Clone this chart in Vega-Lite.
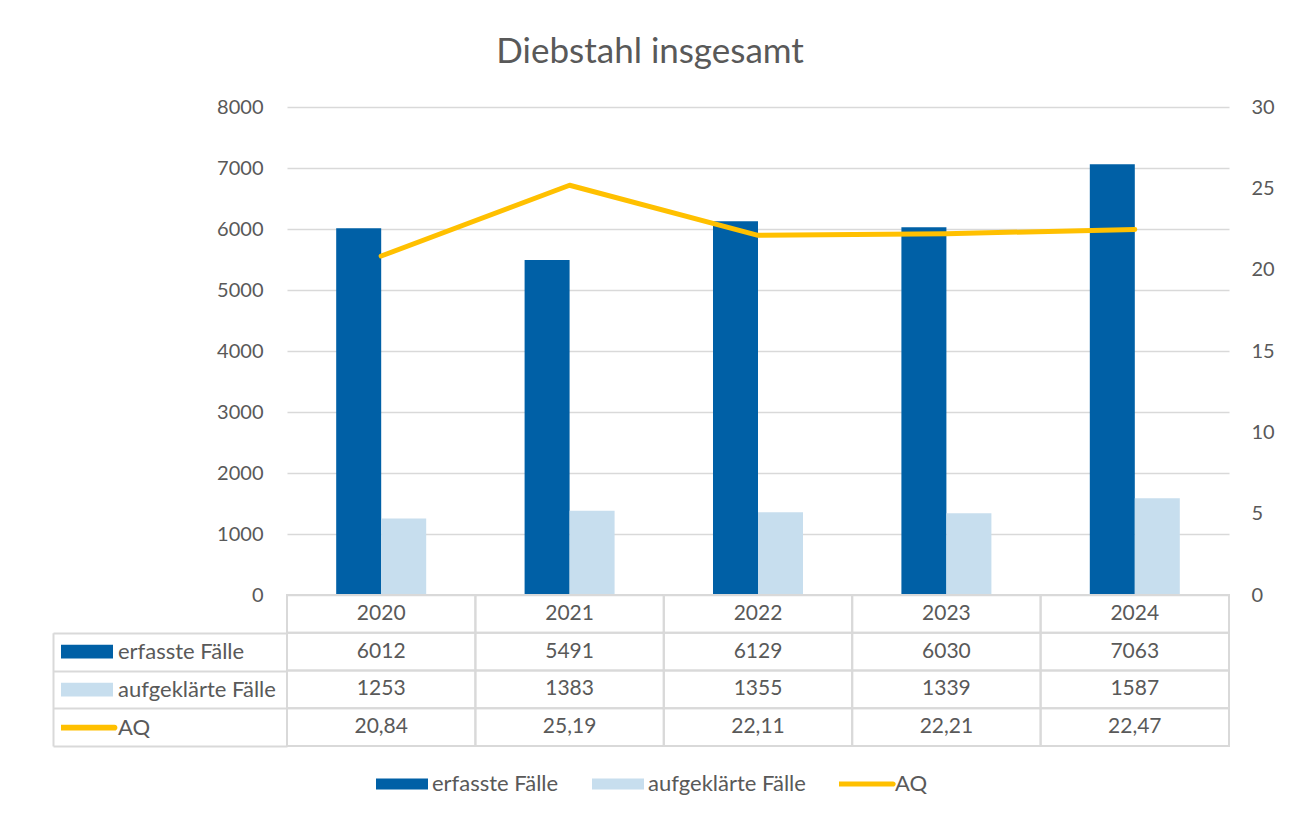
{
  "$schema": "https://vega.github.io/schema/vega-lite/v6.json",
  "padding": {"left": 52, "top": 35, "right": 10, "bottom": 10},
  "title": {"text": "Diebstahl insgesamt", "fontSize": 35, "font": "Lato", "fontWeight": "normal", "color": "#595959", "anchor": "middle", "offset": 27, "dx": -13},
  "datasets": {
    "rows": [
      {"year": "2020", "series": "erfasste Fälle", "value": 6012},
      {"year": "2021", "series": "erfasste Fälle", "value": 5491},
      {"year": "2022", "series": "erfasste Fälle", "value": 6129},
      {"year": "2023", "series": "erfasste Fälle", "value": 6030},
      {"year": "2024", "series": "erfasste Fälle", "value": 7063},
      {"year": "2020", "series": "aufgeklärte Fälle", "value": 1253},
      {"year": "2021", "series": "aufgeklärte Fälle", "value": 1383},
      {"year": "2022", "series": "aufgeklärte Fälle", "value": 1355},
      {"year": "2023", "series": "aufgeklärte Fälle", "value": 1339},
      {"year": "2024", "series": "aufgeklärte Fälle", "value": 1587},
      {"year": "2020", "series": "AQ", "value": 20.84},
      {"year": "2021", "series": "AQ", "value": 25.19},
      {"year": "2022", "series": "AQ", "value": 22.11},
      {"year": "2023", "series": "AQ", "value": 22.21},
      {"year": "2024", "series": "AQ", "value": 22.47}
    ]
  },
  "data": {"name": "rows"},
  "bounds": "flush",
  "spacing": 0,
  "resolve": {
    "scale": {"color": "independent", "shape": "independent"},
    "legend": {"color": "independent", "shape": "independent"}
  },
  "vconcat": [
    {
      "width": 942,
      "height": 488,
      "layer": [
        {
          "transform": [{"filter": "datum.series !== 'AQ'"}],
          "mark": {"type": "bar"},
          "encoding": {
            "x": {"field": "year", "type": "nominal", "axis": null, "scale": {"paddingInner": 0.5223, "paddingOuter": 0.2611}},
            "xOffset": {"field": "series", "type": "nominal", "scale": {"domain": ["erfasste Fälle", "aufgeklärte Fälle"], "paddingInner": 0, "paddingOuter": 0}},
            "y": {
              "field": "value", "type": "quantitative",
              "scale": {"domain": [0, 8000], "nice": false},
              "axis": {"values": [0, 1000, 2000, 3000, 4000, 5000, 6000, 7000, 8000], "format": "d", "grid": true, "gridColor": "#d9d9d9", "gridWidth": 1.5, "domain": false, "ticks": false, "tickSize": 0, "labelPadding": 24, "title": null}
            },
            "color": {
              "field": "series", "type": "nominal",
              "scale": {"domain": ["erfasste Fälle", "aufgeklärte Fälle", "AQ"], "range": ["#0060a6", "#c7deee", "#ffc000"]},
              "legend": {"orient": "none", "legendX": -226, "legendY": 525.75, "direction": "vertical", "title": null, "symbolSize": 2704, "clipHeight": 37.75, "rowPadding": 0, "labelOffset": 5, "padding": 0, "symbolOffset": 0, "labelFontSize": 22, "symbolStrokeWidth": 0, "symbolOpacity": 1}
            }
          }
        },
        {
          "transform": [{"filter": "datum.series === 'AQ'"}],
          "mark": {"type": "line", "color": "#ffc000", "strokeWidth": 5, "strokeCap": "round", "strokeJoin": "round"},
          "encoding": {
            "x": {"field": "year", "type": "nominal", "axis": null},
            "y": {
              "field": "value", "type": "quantitative",
              "scale": {"domain": [0, 30], "nice": false},
              "axis": {"orient": "right", "values": [0, 5, 10, 15, 20, 25, 30], "format": "d", "grid": false, "domain": false, "ticks": false, "tickSize": 0, "labelPadding": 22, "title": null}
            }
          }
        },
        {
          "transform": [{"filter": "false"}],
          "mark": {"type": "point", "filled": true, "opacity": 1},
          "encoding": {
            "x": {"field": "year", "type": "nominal", "axis": null},
            "color": {
              "field": "series", "type": "nominal",
              "scale": {"domain": ["erfasste Fälle", "aufgeklärte Fälle", "AQ"], "range": ["#0060a6", "#c7deee", "#ffc000"]},
              "legend": {"orient": "none", "legendX": -226, "legendY": 525.75, "direction": "vertical", "title": null, "symbolSize": 2704, "clipHeight": 37.75, "rowPadding": 0, "labelOffset": 5, "padding": 0, "symbolOffset": 0, "labelFontSize": 22, "symbolStrokeWidth": 0, "symbolOpacity": 1}
            },
            "shape": {
              "field": "series", "type": "nominal",
              "scale": {"domain": ["erfasste Fälle", "aufgeklärte Fälle", "AQ"], "range": ["M-1,-0.26H1V0.26H-1Z", "M-1,-0.26H1V0.26H-1Z", "M-1.06,-0.11H1.06A0.11,0.11 0 0 1 1.06,0.11H-1.06A0.11,0.11 0 0 1 -1.06,-0.11Z"]},
              "legend": {"orient": "none", "legendX": -226, "legendY": 525.75, "direction": "vertical", "title": null, "symbolSize": 2704, "clipHeight": 37.75, "rowPadding": 0, "labelOffset": 5, "padding": 0, "symbolOffset": 0, "labelFontSize": 22, "symbolStrokeWidth": 0, "symbolOpacity": 1}
            }
          }
        }
      ],
      "resolve": {"scale": {"y": "independent"}}
    },
    {
      "width": 942,
      "height": 151,
      "layer": [
        {
          "mark": {"type": "rect", "filled": false, "stroke": "#d9d9d9", "strokeWidth": 2},
          "encoding": {
            "x": {"field": "year", "type": "nominal", "axis": null, "scale": {"paddingInner": 0, "paddingOuter": 0}},
            "y": {
              "field": "series", "type": "nominal",
              "scale": {"domain": ["Jahr", "erfasste Fälle", "aufgeklärte Fälle", "AQ"], "paddingInner": 0, "paddingOuter": 0},
              "axis": {
                "orient": "left", "offset": 234, "labels": false, "title": null,
                "values": ["erfasste Fälle", "aufgeklärte Fälle", "AQ"],
                "domain": true, "domainColor": "#d9d9d9", "domainWidth": 2, "domainDash": [0, 37.75, 200],
                "ticks": true, "tickBand": "extent", "tickSize": -234, "tickWidth": 2, "tickColor": "#d9d9d9"
              }
            }
          }
        },
        {
          "transform": [{"aggregate": [{"op": "count", "as": "n"}], "groupby": ["year"]}],
          "mark": {"type": "rect", "filled": false, "stroke": "#d9d9d9", "strokeWidth": 2},
          "encoding": {
            "x": {"field": "year", "type": "nominal", "axis": null},
            "y": {"datum": "Jahr", "type": "nominal"}
          }
        },
        {
          "transform": [{"aggregate": [{"op": "count", "as": "n"}], "groupby": ["year"]}],
          "mark": {"type": "text", "fontSize": 21, "color": "#595959"},
          "encoding": {
            "x": {"field": "year", "type": "nominal", "axis": null},
            "y": {"datum": "Jahr", "type": "nominal"},
            "text": {"field": "year"}
          }
        },
        {
          "transform": [{"filter": "datum.series !== 'AQ'"}],
          "mark": {"type": "text", "fontSize": 21, "color": "#595959"},
          "encoding": {
            "x": {"field": "year", "type": "nominal", "axis": null},
            "y": {"field": "series", "type": "nominal"},
            "text": {"field": "value", "type": "quantitative", "format": "d"}
          }
        },
        {
          "transform": [{"filter": "datum.series === 'AQ'"}],
          "mark": {"type": "text", "fontSize": 21, "color": "#595959"},
          "encoding": {
            "x": {"field": "year", "type": "nominal", "axis": null},
            "y": {"field": "series", "type": "nominal"},
            "text": {"field": "value", "type": "quantitative", "format": ".2f"}
          }
        },
        {
          "transform": [{"filter": "false"}],
          "mark": {"type": "point", "filled": true, "opacity": 1},
          "encoding": {
            "x": {"field": "year", "type": "nominal", "axis": null},
            "y": {"field": "series", "type": "nominal"},
            "color": {
              "field": "series", "type": "nominal",
              "scale": {"domain": ["erfasste Fälle", "aufgeklärte Fälle", "AQ"], "range": ["#0060a6", "#c7deee", "#ffc000"]},
              "legend": {"orient": "none", "legendX": 89, "legendY": 179, "direction": "horizontal", "title": null, "symbolSize": 2704, "clipHeight": 20, "columnPadding": 33, "labelOffset": 4, "padding": 0, "symbolOffset": 0, "labelFontSize": 22, "symbolStrokeWidth": 0, "symbolOpacity": 1}
            },
            "shape": {
              "field": "series", "type": "nominal",
              "scale": {"domain": ["erfasste Fälle", "aufgeklärte Fälle", "AQ"], "range": ["M-1,-0.21H1V0.21H-1Z", "M-1,-0.21H1V0.21H-1Z", "M-1.08,-0.1H1.08A0.1,0.1 0 0 1 1.08,0.1H-1.08A0.1,0.1 0 0 1 -1.08,-0.1Z"]},
              "legend": {"orient": "none", "legendX": 89, "legendY": 179, "direction": "horizontal", "title": null, "symbolSize": 2704, "clipHeight": 20, "columnPadding": 33, "labelOffset": 4, "padding": 0, "symbolOffset": 0, "labelFontSize": 22, "symbolStrokeWidth": 0, "symbolOpacity": 1}
            }
          }
        }
      ]
    }
  ],
  "config": {
    "view": {"stroke": null},
    "font": "Lato",
    "locale": {"number": {"decimal": ",", "thousands": ".", "grouping": [3], "currency": ["", " €"]}},
    "axis": {"labelFont": "Lato", "labelFontSize": 20, "labelColor": "#595959"},
    "legend": {"labelFont": "Lato", "labelColor": "#595959", "labelLimit": 300},
    "text": {"font": "Lato"}
  }
}
